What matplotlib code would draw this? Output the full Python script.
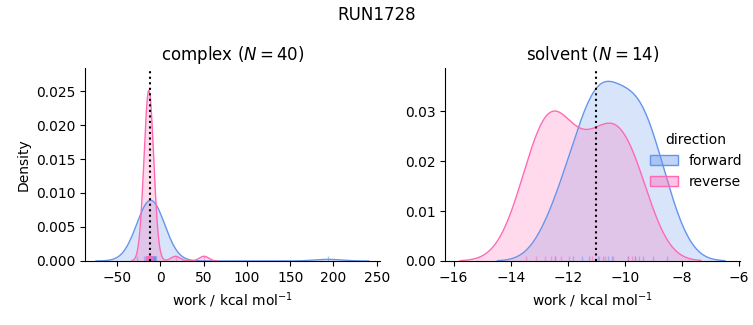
import numpy as np
import matplotlib
matplotlib.use("Agg")
import matplotlib.pyplot as plt
from matplotlib.patches import Patch

# work values (kcal/mol)
run_name = "RUN1728"
directions = ["forward", "reverse"]
colors = {"forward": "cornflowerblue", "reverse": "hotpink"}

complex_forward = [-27.5, -18.5, -17.0, -16.2, -15.5, -15.0, -14.6, -14.2, -13.8, -13.5,
                   -13.2, -12.9, -12.6, -12.3, -12.0, -11.8, -11.6, -11.4, -11.2, -11.0,
                   -10.8, -10.6, -10.4, -10.2, -10.0, -9.7, -9.4, -9.1, -8.8, -8.5,
                   -8.2, -7.9, -7.5, -7.1, -6.7, -6.2, -5.9, -5.7, -5.5, 193.7]
complex_reverse = [-16.7, -16.2, -15.8, -15.5, -15.2, -15.0, -14.8, -14.6, -14.5, -14.3,
                   -14.2, -14.1, -14.0, -13.9, -13.8, -13.7, -13.6, -13.6, -13.5, -13.4,
                   -13.3, -13.2, -13.1, -13.0, -12.9, -12.8, -12.7, -12.5, -12.3, -12.1,
                   -11.9, -11.7, -11.4, -11.1, -10.8, -10.5, -10.2, -9.9, 17.5, 50.4]
solvent_forward = [-12.45, -11.80, -11.50, -11.25, -10.92, -10.75, -10.60,
                   -10.45, -9.89, -9.65, -9.50, -9.35, -9.00, -8.50]
solvent_reverse = [-13.45, -13.10, -12.80, -12.60, -12.45, -12.25, -11.95,
                   -11.15, -10.90, -10.70, -10.40, -9.90, -9.75, -9.65]

complex_estimate = -12.1
solvent_estimate = -11.0


def kde_curve(values, n_all, gridsize=200, cut=3):
    # gaussian kde with scott bandwidth, normalised over all samples like common_norm
    x = np.asarray(values, dtype=float)
    bw = x.std(ddof=1) * len(x) ** (-1 / 5)
    grid = np.linspace(x.min() - cut * bw, x.max() + cut * bw, gridsize)
    dens = np.exp(-0.5 * ((grid[:, None] - x[None, :]) / bw) ** 2).sum(axis=1)
    dens /= np.sqrt(2 * np.pi) * bw * n_all
    return grid, dens


n_all = len(complex_forward) + len(complex_reverse) + len(solvent_forward) + len(solvent_reverse)

fig, axes = plt.subplots(1, 2, figsize=(7.53, 3.25), dpi=100)
fig.subplots_adjust(left=0.113, right=0.983, top=0.791, bottom=0.197, wspace=0.22)

panels = [
    ("complex", {"forward": complex_forward, "reverse": complex_reverse}, complex_estimate),
    ("solvent", {"forward": solvent_forward, "reverse": solvent_reverse}, solvent_estimate),
]

for ax, (phase, data, estimate) in zip(axes, panels):
    for d in directions:
        grid, dens = kde_curve(data[d], n_all)
        ax.fill_between(grid, 0, dens, color=colors[d], alpha=0.25, linewidth=0)
        ax.plot(grid, dens, color=colors[d], lw=1)
        ax.vlines(data[d], 0, 0.025, transform=ax.get_xaxis_transform(),
                  color=colors[d], lw=1, alpha=0.5)
    ax.axvline(estimate, color="black", ls=":", lw=1.5)
    ax.set_title(f"{phase} ($N={len(data['forward'])}$)", fontsize=12)
    ax.set_xlabel("work / kcal mol$^{-1}$")
    ax.spines["top"].set_visible(False)
    ax.spines["right"].set_visible(False)

axes[0].set_ylabel("Density")
axes[0].set_xlim(-87, 254)
axes[0].set_ylim(0, 0.0284)
axes[0].set_xticks([-50, 0, 50, 100, 150, 200, 250])
axes[1].set_xlim(-16.3, -5.95)
axes[1].set_ylim(0, 0.0387)
axes[1].set_xticks([-16, -14, -12, -10, -8, -6])
axes[1].set_yticks([0, 0.01, 0.02, 0.03])

handles = [Patch(facecolor=matplotlib.colors.to_rgba(colors[d], 0.4), edgecolor=colors[d], label=d)
           for d in directions]
axes[1].legend(handles=handles, title="direction", loc="center right", frameon=False,
               bbox_to_anchor=(1.05, 0.52))

fig.suptitle(run_name, fontsize=12)
fig.savefig("out.png")
